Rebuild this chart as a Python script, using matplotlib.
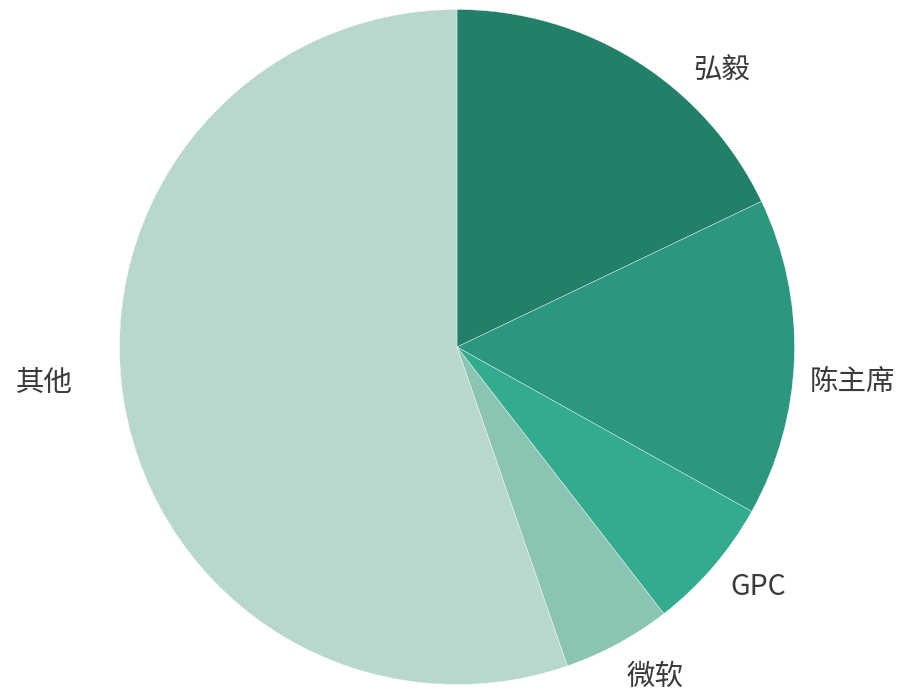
import matplotlib.pyplot as plt

plt.rcParams['font.family'] = ['Noto Sans CJK SC', 'DejaVu Sans']

names = ["弘毅", "陈主席", "GPC", "微软", "其他"]
shares = [17.9, 15.2, 6.4, 5.2, 55.3]
colors = ["#22806a", "#2b9780", "#33ab8f", "#8cc4b3", "#b8d8ce"]

# label centres in pixel coordinates (y measured from bottom)
label_pos = [(722, 623), (853, 311), (758, 106), (655, 16), (44, 310)]

fig = plt.figure(figsize=(9, 6.93), dpi=100)
ax = fig.add_axes([0, 0, 1, 1])

ax.pie(shares, colors=colors, startangle=90, counterclock=False,
       center=(457, 346), radius=337.5,
       wedgeprops=dict(edgecolor="white", linewidth=0.25))

# pie() resets the limits, so set them afterwards
ax.set_xlim(0, 900)
ax.set_ylim(0, 693)
ax.set_aspect("equal")
ax.axis("off")

for name, (x, y) in zip(names, label_pos):
    ax.text(x, y, name, ha="center", va="center", fontsize=20.5, color="#3a3a3a")

fig.savefig("out.png", dpi=100)
